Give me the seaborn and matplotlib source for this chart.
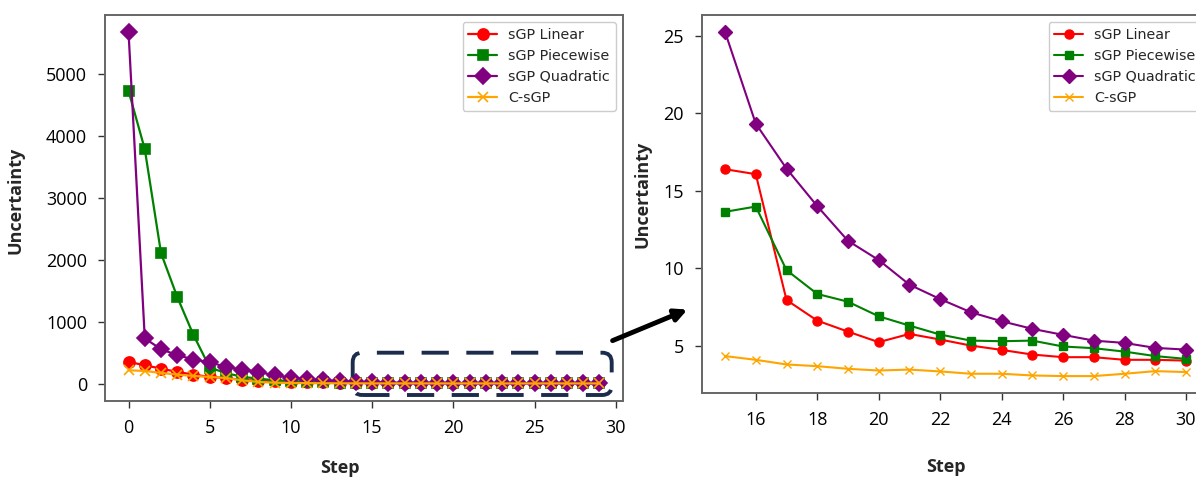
import numpy as np
import pandas as pd
import matplotlib
matplotlib.use("Agg")
import matplotlib.pyplot as plt
import seaborn as sns
from matplotlib.patches import FancyBboxPatch, FancyArrowPatch

# ---------------- data ----------------
left_steps = list(range(0, 30))
right_steps = list(range(15, 31))

sgp_linear = [352, 297, 243, 189, 146, 108, 91, 60, 45, 35, 28, 22, 20, 17,
              16.38, 16.06, 7.94, 6.61, 5.9, 5.22, 5.75, 5.39, 5.0, 4.72, 4.42,
              4.25, 4.25, 4.08, 4.08, 4.03]
sgp_piecewise = [4730, 3790, 2110, 1400, 785, 260, 170, 110, 80, 55, 40, 32, 24, 18,
                 13.63, 13.97, 9.87, 8.33, 7.83, 6.89, 6.29, 5.71, 5.32, 5.28, 5.32,
                 4.94, 4.83, 4.61, 4.32, 4.14]
sgp_quadratic = [5680, 731, 557, 460, 390, 345, 270, 227, 189, 135, 97, 70, 54, 38,
                 25.24, 19.32, 16.42, 14.0, 11.76, 10.52, 8.93, 8.0, 7.15, 6.57, 6.08,
                 5.69, 5.32, 5.17, 4.85, 4.74]
c_sgp = [216, 205, 173, 146, 124, 108, 91, 54, 27, 15, 10, 8, 6, 5,
         4.32, 4.08, 3.78, 3.67, 3.5, 3.39, 3.45, 3.33, 3.18, 3.18, 3.07,
         3.03, 3.03, 3.18, 3.35, 3.29]

series_names = ["sGP Linear", "sGP Piecewise", "sGP Quadratic", "C-sGP"]
series_values = [sgp_linear, sgp_piecewise, sgp_quadratic, c_sgp]
series_colors = ["red", "green", "purple", "orange"]
series_markers = ["o", "s", "D", "x"]

left_xticks = [0, 5, 10, 15, 20, 25, 30]
left_yticks = [0, 1000, 2000, 3000, 4000, 5000]
right_xticks = [16, 18, 20, 22, 24, 26, 28, 30]
right_yticks = [5, 10, 15, 20, 25]

# ---------------- style ----------------
sns.set_style("ticks")
plt.rcParams["font.family"] = ["Open Sans", "DejaVu Sans"]

W, H = 1196, 480
fig = plt.figure(figsize=(W / 100, H / 100), dpi=100)

ax1 = fig.add_axes([105 / W, 1 - 401 / H, (623 - 105) / W, (401 - 14.7) / H])
ax2 = fig.add_axes([702 / W, 1 - 393.3 / H, (1209 - 702) / W, (393.3 - 14.7) / H])

n_right = len(right_steps)
for name, vals, col, mk in zip(series_names, series_values, series_colors, series_markers):
    df_l = pd.DataFrame({"Step": left_steps, "Uncertainty": vals})
    df_r = pd.DataFrame({"Step": right_steps, "Uncertainty": vals[-n_right:]})
    ms_l = 8 if mk == "D" else (7 if mk == "s" else (8 if mk == "o" else 7))
    ms_r = 7 if mk == "D" else (6 if mk == "s" else (6.5 if mk == "o" else 6))
    sns.lineplot(data=df_l, x="Step", y="Uncertainty", ax=ax1, color=col, marker=mk,
                 markersize=ms_l, markeredgecolor=col, markerfacecolor=col,
                 markeredgewidth=1.2, linewidth=1.6, label=name)
    sns.lineplot(data=df_r, x="Step", y="Uncertainty", ax=ax2, color=col, marker=mk,
                 markersize=ms_r, markeredgecolor=col, markerfacecolor=col,
                 markeredgewidth=1.0, linewidth=1.5, label=name)

for ax, xt, yt in [(ax1, left_xticks, left_yticks), (ax2, right_xticks, right_yticks)]:
    ax.set_xticks(xt)
    ax.set_yticks(yt)
    ax.tick_params(axis="both", labelsize=13, length=5, width=1, color="#333333",
                   pad=8, labelcolor="black")
    for sp in ax.spines.values():
        sp.set_visible(True)
        sp.set_color("#666666")
        sp.set_linewidth(1.4)
    ax.set_xlabel("Step", fontsize=13, fontweight="bold")
    ax.set_ylabel("Uncertainty", fontsize=13, fontweight="bold")
    ax.legend(loc="upper right", prop={"family": "DejaVu Sans", "size": 10.3},
              frameon=True, edgecolor="#cccccc", framealpha=1.0, fancybox=True)

ax1.margins(x=0.05, y=0.05)
ax1.xaxis.set_label_coords(0.454, -0.150)
ax1.yaxis.set_label_coords(-0.156, 0.52)
ax2.xaxis.set_label_coords(0.481, -0.171)
ax2.yaxis.set_label_coords(-0.099, 0.526)

# dashed rounded highlight box on the left panel
bx0, bx1 = 352.7 / W, 611.7 / W
by0, by1 = 1 - 395 / H, 1 - 352.7 / H
box = FancyBboxPatch((bx0, by0), bx1 - bx0, by1 - by0,
                     boxstyle="round,pad=0,rounding_size=0.008",
                     mutation_aspect=W / H, transform=fig.transFigure,
                     fill=False, edgecolor="#1c2c4c", linewidth=2.8,
                     linestyle=(0, (7, 4.5)), zorder=10)
fig.add_artist(box)

arrow = FancyArrowPatch((610 / W, 1 - 341.7 / H), (690 / W, 1 - 308.5 / H),
                        transform=fig.transFigure, arrowstyle="-|>",
                        mutation_scale=18, linewidth=3.5, color="black", zorder=10)
fig.add_artist(arrow)

fig.savefig("out.png", dpi=100)
